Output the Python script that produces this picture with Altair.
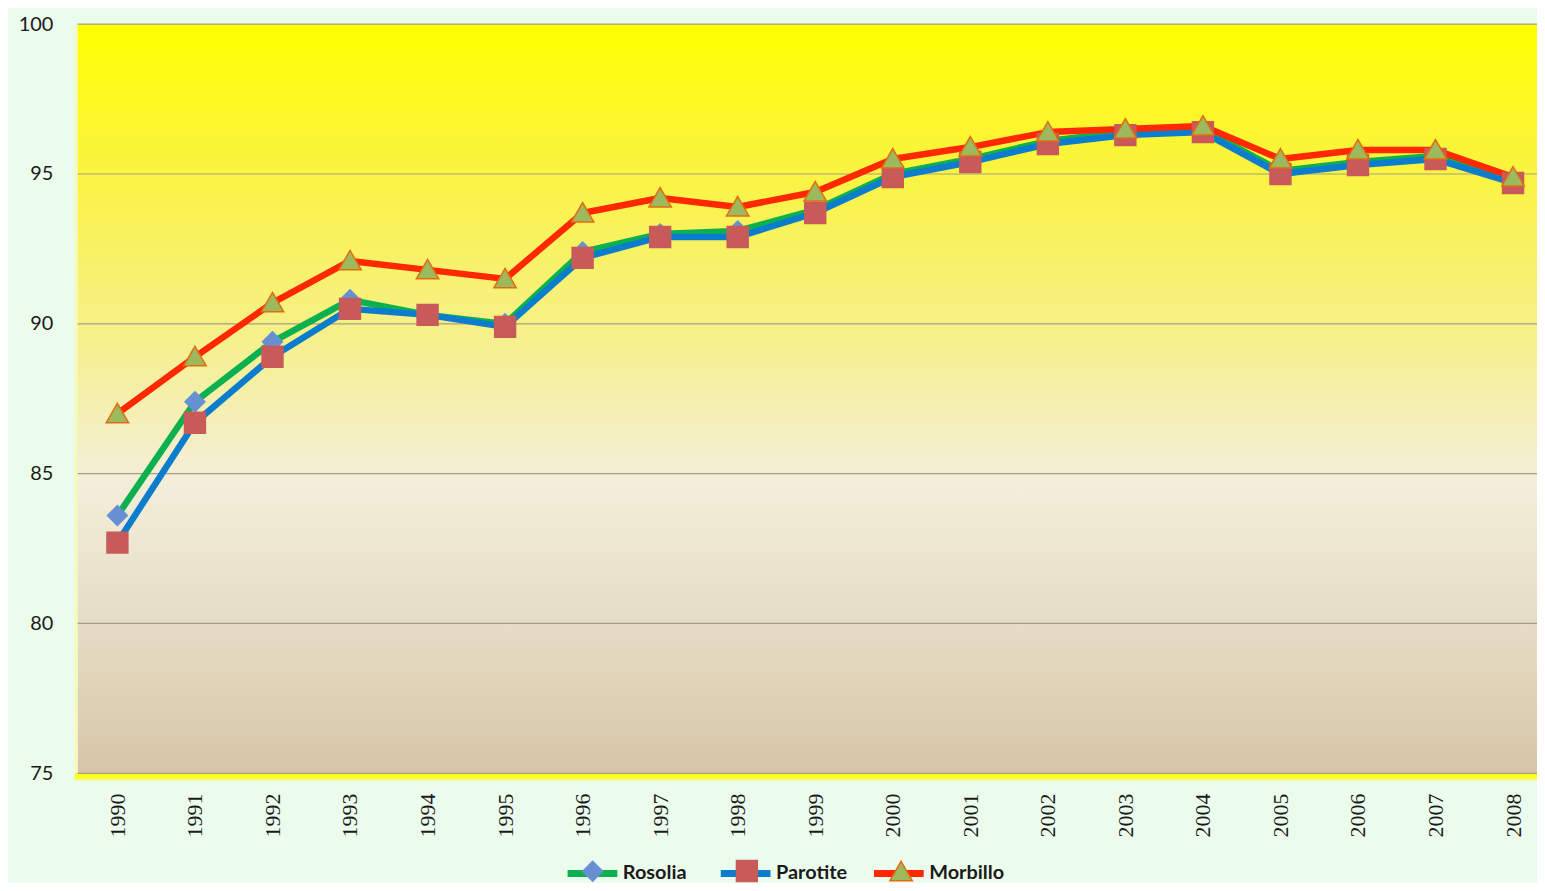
import altair as alt
import pandas as pd

# ---- data ----
years = list(range(1990, 2009))
rosolia = [83.6, 87.4, 89.4, 90.8, 90.3, 90.0, 92.4, 93.0, 93.1, 93.8, 95.0, 95.5, 96.1, 96.4, 96.5, 95.1, 95.4, 95.6, 94.8]
parotite = [82.7, 86.7, 88.9, 90.5, 90.3, 89.9, 92.2, 92.9, 92.9, 93.7, 94.9, 95.4, 96.0, 96.3, 96.4, 95.0, 95.3, 95.5, 94.7]
morbillo = [87.0, 88.9, 90.7, 92.1, 91.8, 91.5, 93.7, 94.2, 93.9, 94.4, 95.5, 95.9, 96.4, 96.5, 96.6, 95.5, 95.8, 95.8, 94.9]
series_names = ["Rosolia", "Parotite", "Morbillo"]
marker_keys = ["m_" + s for s in series_names]
y_ticks = [75, 80, 85, 90, 95, 100]

line_colors = ["#0DB04F", "#0C7DCC", "#FF2800"]
marker_fills = ["#6790D2", "#C95A5A", "#9DB95E"]
marker_strokes = ["#6790D2", "#C95A5A", "#E36C12"]
marker_paths = [
    "M-0.4,0L0,-0.4L0.4,0L0,0.4Z",
    "M-0.42,-0.42H0.42V0.42H-0.42Z",
    "M0,-0.42L0.45,0.36L-0.45,0.36Z",
]

rows = []
for name, key, vals in zip(series_names, marker_keys, [rosolia, parotite, morbillo]):
    for yr, v in zip(years, vals):
        rows.append({"year": yr, "value": v, "series": name, "series2": key})
df = pd.DataFrame(rows)

W, H = 1467, 753
x_scale = alt.Scale(domain=[1989.487, 1990 + (W - 40) / 77.94], nice=False, zero=False)
y_scale = alt.Scale(domain=[75, 100], nice=False, zero=False)

one = pd.DataFrame({"a": [0]})

bg = alt.Chart(one).mark_rect(
    fill=alt.Gradient(
        gradient="linear", x1=0, y1=0, x2=0, y2=1,
        stops=[
            alt.GradientStop(color="#FFFF00", offset=0),
            alt.GradientStop(color="#FAF43C", offset=0.18),
            alt.GradientStop(color="#F6F08C", offset=0.42),
            alt.GradientStop(color="#F3EEDA", offset=0.61),
            alt.GradientStop(color="#E6DCC4", offset=0.8),
            alt.GradientStop(color="#D6C6A6", offset=1),
        ],
    )
).encode(x=alt.value(0), x2=alt.value(W), y=alt.value(0), y2=alt.value(H))

bottom_band = alt.Chart(one).mark_rect(
    fill=alt.Gradient(
        gradient="linear", x1=0, y1=0, x2=0, y2=1,
        stops=[
            alt.GradientStop(color="#FFFF00", offset=0),
            alt.GradientStop(color="#FCFA30", offset=0.6),
            alt.GradientStop(color="#EEFAD8", offset=1),
        ],
    )
).encode(x=alt.value(-3), x2=alt.value(W), y=alt.value(H), y2=alt.value(H + 8))

left_band = alt.Chart(one).mark_rect(color="#F4FAB8").encode(
    x=alt.value(-3), x2=alt.value(0), y=alt.value(0), y2=alt.value(H)
)

label_font = "Lato"
y_axis = alt.Axis(values=y_ticks, labelFont=label_font, labelFontSize=20, labelColor="#1A1A1A",
                  labelPadding=25, ticks=False, domain=False, grid=False, title=None)

grid = alt.Chart(pd.DataFrame({"g": y_ticks})).mark_rule(
    color="#A59D86", strokeWidth=1.2
).encode(y=alt.Y("g:Q", scale=y_scale, axis=y_axis))

legend_common = dict(
    orient="none", legendY=825, direction="horizontal", title=None, columns=3, gridAlign="all",
    symbolSize=2500, labelFont=label_font, labelFontSize=20, labelFontWeight="bold",
    labelOffset=2, padding=0, labelLimit=0,
)

color_enc = alt.Color(
    "series:N",
    scale=alt.Scale(domain=series_names, range=line_colors),
    legend=alt.Legend(symbolType="stroke", symbolStrokeWidth=7, labelColor="#1A1A1A",
                      legendX=489, columnPadding=8, **legend_common),
)

x_enc = alt.X(
    "year:Q", scale=x_scale,
    axis=alt.Axis(values=years, format="d", labelAngle=-90, labelFont="Liberation Serif",
                  labelFontSize=22, labelColor="#1A1A1A", labelPadding=20, ticks=False,
                  domain=False, grid=False, title=None),
)
y_enc = alt.Y("value:Q", scale=y_scale, axis=y_axis)

base = alt.Chart(df)
lines = [
    base.transform_filter(alt.datum.series == s).mark_line(strokeWidth=6.5, strokeJoin="round").encode(
        x=x_enc, y=y_enc, color=color_enc
    )
    for s in series_names
]

marker_legend = alt.Legend(symbolStrokeWidth=1.5, symbolOpacity=1, labelExpr="''",
                           legendX=491.75, columnPadding=101, **legend_common)
shape_enc = alt.Shape("series2:N", scale=alt.Scale(domain=marker_keys, range=marker_paths),
                      legend=marker_legend)
fill_enc = alt.Fill("series2:N", scale=alt.Scale(domain=marker_keys, range=marker_fills),
                    legend=marker_legend)
stroke_enc = alt.Stroke("series2:N", scale=alt.Scale(domain=marker_keys, range=marker_strokes),
                        legend=marker_legend)

points = [
    base.transform_filter(alt.datum.series2 == k).mark_point(
        filled=True, size=2500, opacity=1, strokeWidth=1.5
    ).encode(x=x_enc, y=y_enc, shape=shape_enc, fill=fill_enc, stroke=stroke_enc)
    for k in marker_keys
]

chart = alt.layer(bg, bottom_band, left_band, grid, *lines, *points).properties(
    width=W, height=H,
    padding={"left": 70, "top": 14, "right": 0, "bottom": 108},
    autosize=alt.AutoSizeParams(type="none"),
    background="#ECFCEC",
).configure_view(stroke=None)

chart.save("out.html", embed_options={"renderer": "svg", "actions": False})
